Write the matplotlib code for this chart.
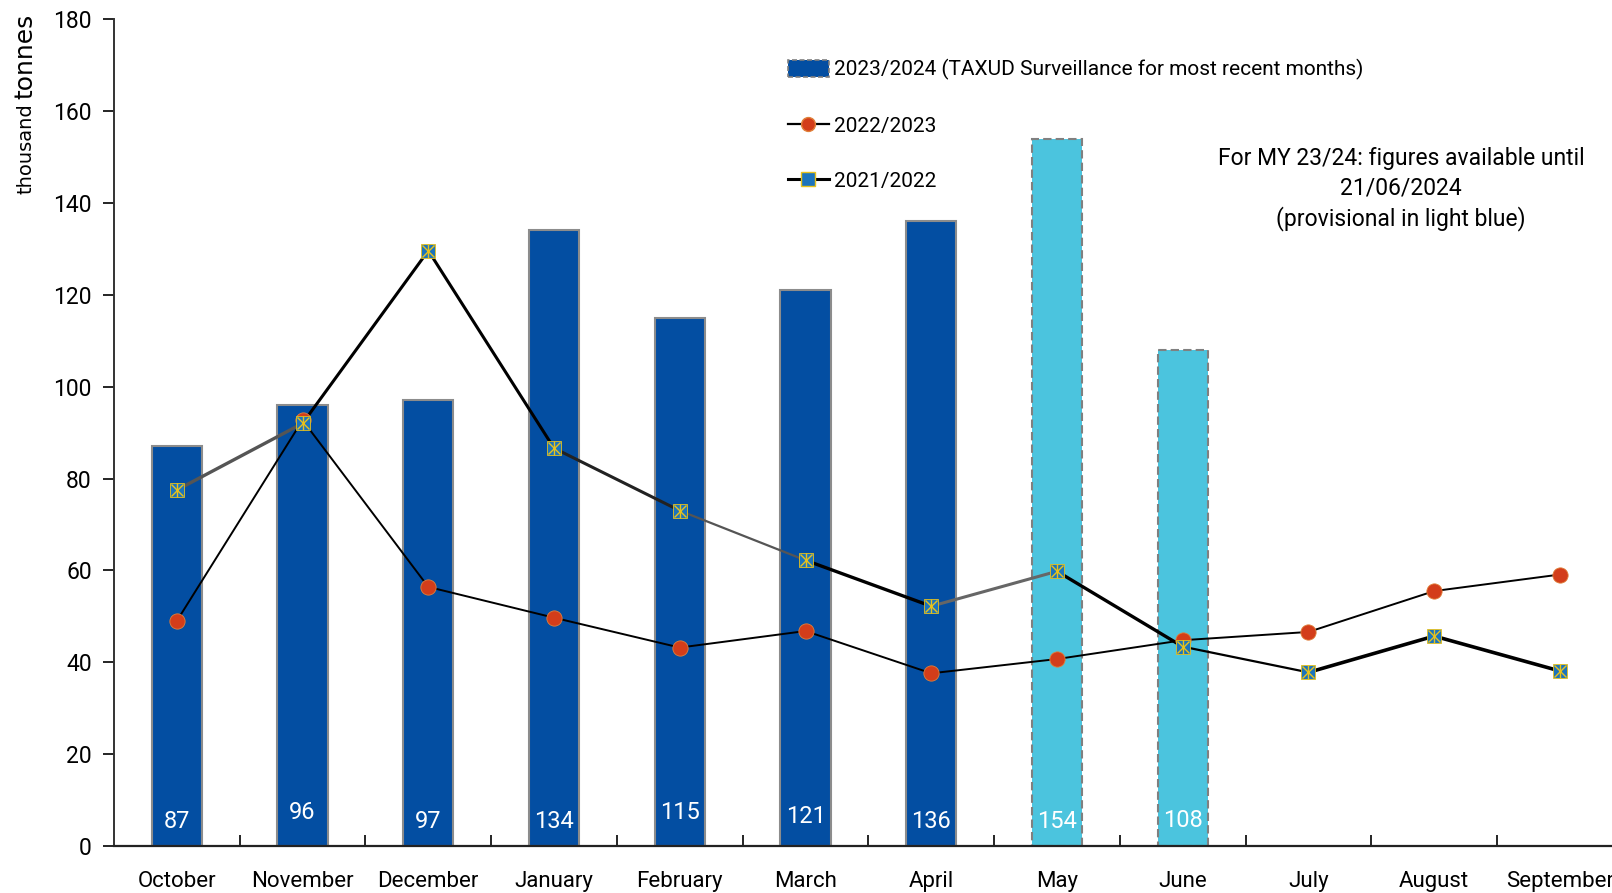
import numpy as np
import matplotlib.pyplot as plt
from matplotlib.patches import Patch
from matplotlib.lines import Line2D

plt.rcParams['font.family'] = ['Roboto', 'DejaVu Sans']

months = ["October", "November", "December", "January", "February", "March",
          "April", "May", "June", "July", "August", "September"]

# 2023/2024 imports (last two months provisional)
mar_2324 = [87, 96, 97, 134, 115, 121, 136, 154, 108]
provisional = [False, False, False, False, False, False, False, True, True]

mar_2223 = [49.0, 92.7, 56.4, 49.7, 43.2, 46.8, 37.6, 40.7, 44.8, 46.6, 55.5, 59.1]
mar_2122 = [77.5, 92.0, 129.6, 86.6, 73.0, 62.2, 52.2, 59.8, 43.4, 37.8, 45.7, 38.1]

# segment shading / widths of the 2021/2022 line
seg_color = ["#555555", "black", "black", "#222222", "#555555", "black",
             "#666666", "black", "black", "black", "black"]
seg_width = [2.4, 2.2, 2.2, 2.2, 1.6, 2.4, 2.2, 2.4, 1.6, 2.6, 2.6]

label_y = [5.4, 7.2, 5.4, 5.4, 7.2, 6.4, 5.4, 5.4, 5.6]

dark_blue = "#034ea2"
light_blue = "#4bc4de"
red = "#d33d1a"
sq_blue = "#1c74bc"
gold = "#e8c21c"

fig = plt.figure(figsize=(16.12, 8.93), dpi=100)
ax = fig.add_axes([0.0707, 0.0526, 0.936, 0.926])

x = np.arange(len(months))

for i, (v, prov) in enumerate(zip(mar_2324, provisional)):
    if prov:
        ax.bar(i, v, width=0.4, color=light_blue, edgecolor="#808080",
               linestyle=(0, (4, 2)), linewidth=1.5, zorder=2)
    else:
        ax.bar(i, v, width=0.4, color=dark_blue, edgecolor="#8c8c8c",
               linewidth=1.5, zorder=2)
    ax.text(i, label_y[i], str(v), color="white", ha="center", va="center",
            fontsize=17, zorder=6)

ax.plot(x, mar_2223, color="black", linewidth=1.4, zorder=3)
ax.plot(x, mar_2223, linestyle="none", marker="o", markersize=11,
        markerfacecolor=red, markeredgecolor="#e0803a", markeredgewidth=0.6,
        zorder=4)

for i in range(len(x) - 1):
    ax.plot(x[i:i + 2], mar_2122[i:i + 2], color=seg_color[i],
            linewidth=seg_width[i], solid_capstyle="round", zorder=3)
ax.plot(x, mar_2122, linestyle="none", marker="s", markersize=10.5,
        markerfacecolor=sq_blue, markeredgecolor=gold, markeredgewidth=0.6,
        zorder=4)
ax.plot(x, mar_2122, linestyle="none", marker="x", markersize=9,
        markeredgecolor=gold, markeredgewidth=1.0, zorder=5)
ax.plot(x, mar_2122, linestyle="none", marker="|", markersize=10,
        markeredgecolor=gold, markeredgewidth=1.0, zorder=5)

ax.set_xlim(-0.5, 11.5)
ax.set_ylim(0, 180)
ax.set_yticks(np.arange(0, 181, 20))
ax.set_xticks(x)
ax.set_xticklabels(months, fontsize=16)
ax.set_xticks(np.arange(0.5, 11.5, 1), minor=True)
ax.tick_params(axis="x", which="major", length=0, pad=18)
ax.tick_params(axis="x", which="minor", direction="in", length=8, width=1.2)
ax.tick_params(axis="y", direction="out", length=8, width=1.2, labelsize=16.5, pad=8)
for side in ["top", "right"]:
    ax.spines[side].set_visible(False)
ax.spines["left"].set_linewidth(1.4)
ax.spines["bottom"].set_linewidth(1.6)
ax.spines["left"].set_color("#333333")
ax.spines["bottom"].set_color("#222222")

# unit label, two sizes as in the source chart
fig.text(0.0155, 0.985, "tonnes", rotation=90, ha="center", va="top",
         fontsize=18, family="DejaVu Sans")
fig.text(0.0163, 0.884, "thousand", rotation=90, ha="center", va="top",
         fontsize=14, family="DejaVu Sans")

handles = [
    Patch(facecolor=dark_blue, edgecolor="#808080", linestyle=(0, (3, 1.5)), linewidth=1.2),
    Line2D([], [], color="black", linewidth=1.6, marker="o", markersize=10,
           markerfacecolor=red, markeredgecolor="#e0803a"),
    Line2D([], [], color="black", linewidth=2.2, marker="s", markersize=9.5,
           markerfacecolor=sq_blue, markeredgecolor=gold),
]
labels = ["2023/2024 (TAXUD Surveillance for most recent months)",
          "2022/2023", "2021/2022"]
ax.legend(handles, labels, loc="upper left", bbox_to_anchor=(0.434, 0.974),
          frameon=False, fontsize=15, labelspacing=1.7, handlelength=2.0,
          handletextpad=0.25, handleheight=0.9)

fig.text(0.869, 0.788, "For MY 23/24: figures available until\n21/06/2024\n(provisional in light blue)",
         ha="center", va="center", fontsize=16.5, linespacing=1.35)

fig.savefig("out.png", dpi=100)
